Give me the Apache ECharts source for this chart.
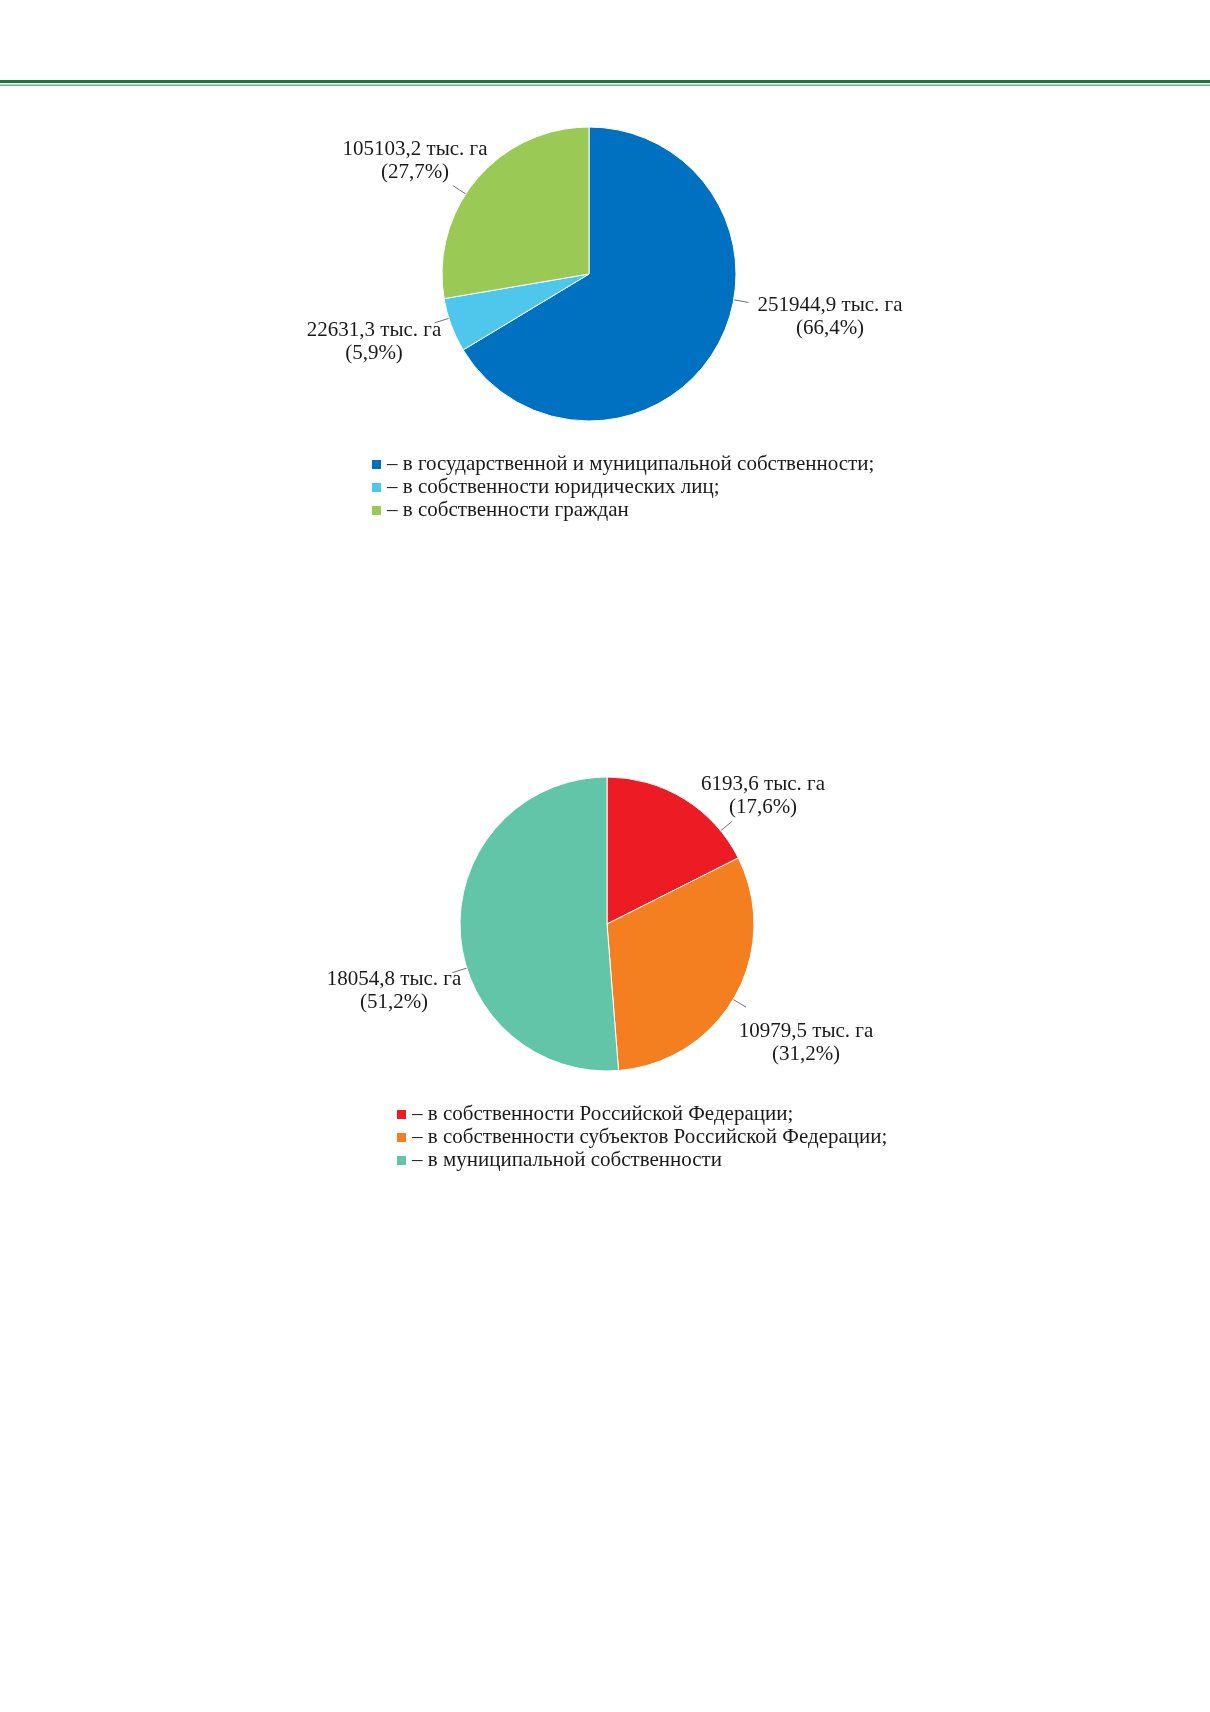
<!DOCTYPE html>
<html style="height: 100%">
<head>
  <meta charset="utf-8">
  <style>
    html, body { margin: 0; padding: 0; background: #ffffff; }
    #chart { width: 1210px; height: 1712px; }
  </style>
</head>
<body>
<div id="chart"></div>
<script src="https://cdn.jsdelivr.net/npm/echarts@6/dist/echarts.min.js"></script>
<script type="text/javascript">
// chart 1: land by form of ownership
var names1 = ['в государственной и муниципальной собственности', 'в собственности юридических лиц', 'в собственности граждан'];
var values1 = [251944.9, 22631.3, 105103.2];
var percents1 = [66.4, 5.9, 27.7];
var colors1 = ['#0070c0', '#4fc6eb', '#9bc955'];

// chart 2: state and municipal land
var names2 = ['в собственности Российской Федерации', 'в собственности субъектов Российской Федерации', 'в муниципальной собственности'];
var values2 = [6193.6, 10979.5, 18054.8];
var percents2 = [17.6, 31.2, 51.2];
var colors2 = ['#ed1c24', '#f47f20', '#62c5a8'];

// layout
var centers = [[589, 274], [607, 924]];
var R = 147;
// label block centres (px)
var labelPos = [
  [[830, 317], [374, 342], [415, 161]],
  [[763, 796], [806, 1043], [394, 991]]
];

var FONT = '"Liberation Serif", "Times New Roman", serif';

function comma(v) {
  return String(v).replace('.', ',');
}

function buildData(names, values, percents) {
  var arr = [];
  for (var i = 0; i < names.length; i++) {
    arr.push({ name: names[i], value: values[i], pct: percents[i] });
  }
  return arr;
}

function pieSeries(data, colors, idx) {
  var c = centers[idx];
  return {
    type: 'pie',
    center: c,
    radius: R,
    startAngle: 90,
    clockwise: true,
    color: colors,
    silent: true,
    animation: false,
    itemStyle: { borderColor: '#ffffff', borderWidth: 1 },
    label: {
      show: true,
      position: 'outside',
      color: '#1a1a1a',
      fontFamily: FONT,
      fontSize: 21,
      lineHeight: 23,
      formatter: function (p) {
        return comma(p.data.value) + ' тыс. га\n(' + comma(p.data.pct) + '%)';
      }
    },
    labelLine: {
      show: true,
      length: 10,
      length2: 6,
      lineStyle: { color: '#6f6f6f', width: 1 }
    },
    labelLayout: function (p) {
      var pos = labelPos[idx][p.dataIndex];
      // short straight leader from the rim towards the label
      var dx = pos[0] - c[0], dy = pos[1] - c[1];
      var len = Math.sqrt(dx * dx + dy * dy);
      var ux = dx / len, uy = dy / len;
      var sx = c[0] + ux * (R - 1), sy = c[1] + uy * (R - 1);
      return {
        x: pos[0],
        y: pos[1],
        align: 'center',
        verticalAlign: 'middle',
        labelLinePoints: [[sx, sy], [sx + ux * 8, sy + uy * 8], [sx + ux * 16, sy + uy * 16]]
      };
    },
    data: data
  };
}

function legendFor(names, colors, left, top) {
  return {
    orient: 'vertical',
    left: left,
    top: top,
    padding: 0,
    icon: 'rect',
    itemWidth: 11,
    itemHeight: 11,
    itemGap: 2,
    selectedMode: false,
    data: names.map(function (n, i) {
      return { name: n, itemStyle: { color: colors[i] } };
    }),
    textStyle: { color: '#1a1a1a', fontFamily: FONT, fontSize: 21, lineHeight: 21 },
    formatter: function (name) {
      var i = names.indexOf(name);
      return '– ' + name + (i < names.length - 1 ? ';' : '');
    }
  };
}

var myChart = echarts.init(document.getElementById('chart'), null, { renderer: 'canvas' });

var option = {
  backgroundColor: '#ffffff',
  animation: false,
  graphic: [
    { type: 'rect', shape: { x: 0, y: 80, width: 1210, height: 3 }, style: { fill: '#18773a' } },
    { type: 'rect', shape: { x: 0, y: 84.5, width: 1210, height: 1.5 }, style: { fill: '#6fae82' } }
  ],
  legend: [
    legendFor(names1, colors1, 370, 454),
    legendFor(names2, colors2, 395, 1104)
  ],
  series: [
    pieSeries(buildData(names1, values1, percents1), colors1, 0),
    pieSeries(buildData(names2, values2, percents2), colors2, 1)
  ]
};

myChart.setOption(option, true);
</script>
</body>
</html>
